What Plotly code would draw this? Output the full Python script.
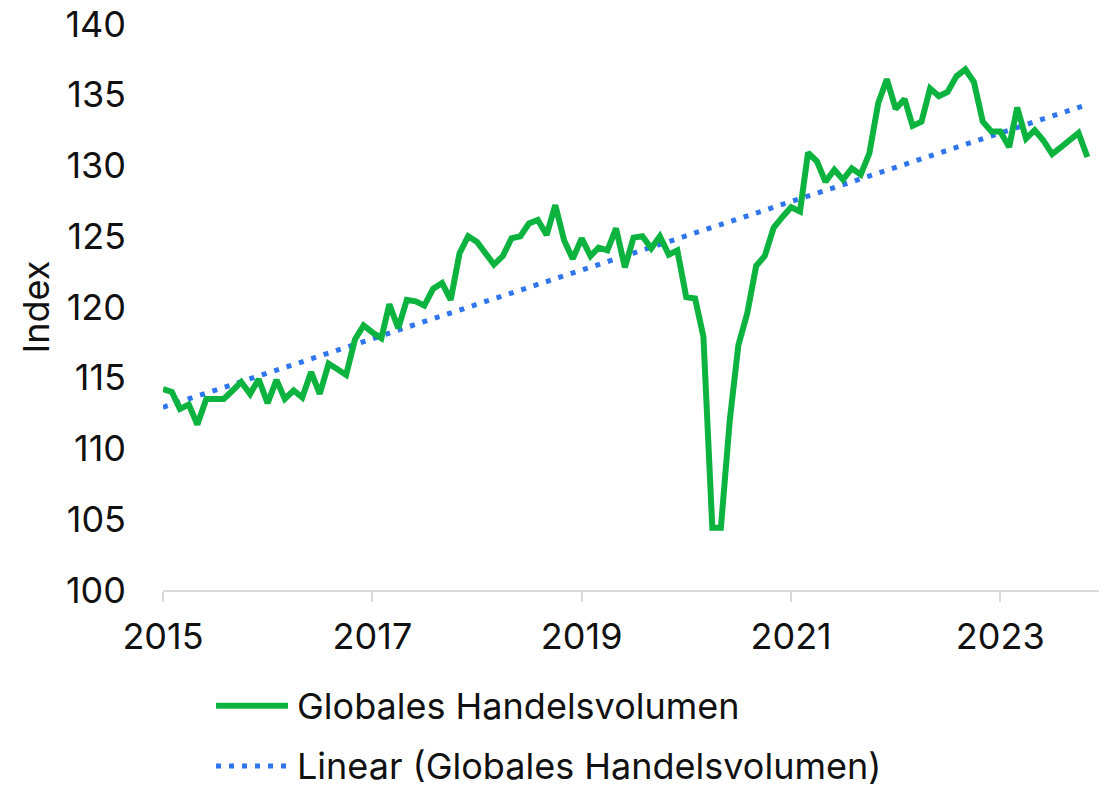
import numpy as np
import pandas as pd
import plotly.graph_objects as go

# Globales Handelsvolumen, monthly index values Jan 2015 - Nov 2023
start_month = "2015-01-01"
volume = [
    114.2, 114.0, 112.8, 113.1, 111.7, 113.5, 113.5, 113.5, 114.1, 114.7, 113.85, 114.9,
    113.2, 114.85, 113.5, 114.1, 113.6, 115.4, 113.85, 116.0, 115.6, 115.2, 117.7, 118.7,
    118.2, 117.8, 120.2, 118.5, 120.5, 120.4, 120.1, 121.3, 121.7, 120.5, 123.8, 125.0,
    124.6, 123.8, 123.0, 123.6, 124.85, 125.0, 125.9, 126.15, 125.1, 127.2, 124.7, 123.4,
    124.85, 123.6, 124.2, 124.0, 125.55, 122.8, 124.9, 125.0, 124.15, 125.0, 123.7, 124.0,
    120.7, 120.6, 117.9, 104.4, 104.4, 112.0, 117.3, 119.55, 122.9, 123.6, 125.6, 126.35,
    127.05, 126.75, 130.9, 130.3, 128.85, 129.7, 129.0, 129.8, 129.35, 130.85, 134.4, 136.1,
    134.0, 134.7, 132.8, 133.1, 135.45, 134.9, 135.2, 136.3, 136.8, 135.9, 133.1, 132.4,
    132.4, 131.3, 134.1, 131.9, 132.5, 131.75, 130.8, 131.3, 131.75, 132.3, 130.6,
]
series_name = "Globales Handelsvolumen"
trend_name = "Linear (Globales Handelsvolumen)"
year_ticks = ["2015-01-01", "2017-01-01", "2019-01-01", "2021-01-01", "2023-01-01"]

colors = {
    'line': '#0db33f',  # green
    'trend': '#2e75ee',  # blue dotted trend
    'axis': '#d9d9d9',  # light gray axis line
    'font': '#111111',
}

months = pd.date_range(start_month, periods=len(volume), freq="MS")

# Excel-style linear trendline (least squares over the months)
idx = np.arange(len(volume))
slope, intercept = np.polyfit(idx, volume, 1)
trend = intercept + slope * idx

fig = go.Figure()
fig.add_trace(go.Scatter(
    x=months, y=trend, mode="lines", name=trend_name,
    line=dict(color=colors['trend'], width=5, dash="5px,8px"),
    showlegend=False,
))
fig.add_trace(go.Scatter(
    x=months, y=volume, mode="lines", name=series_name,
    line=dict(color=colors['line'], width=6),
    showlegend=False,
))

# legend drawn by hand so the samples are as long as in the original
legend_items = [
    (series_name, colors['line'], "solid", -0.2044),
    (trend_name, colors['trend'], "5px,8px", -0.3110),
]
for text, col, dash, ypos in legend_items:
    fig.add_shape(type="line", xref="paper", yref="paper",
                  x0=0.0566, x1=0.1334, y0=ypos, y1=ypos,
                  line=dict(color=col, width=6 if dash == "solid" else 5, dash=dash))
    fig.add_annotation(xref="paper", yref="paper", x=0.1409, y=ypos,
                       text=text, showarrow=False, xanchor="left", yanchor="middle",
                       font=dict(size=36, color=colors['font']))

# page body adds 8px offset, so the figure is 8px smaller than the window
fig.update_layout(
    width=1099, height=777,
    margin=dict(l=155, r=7, t=16, b=195),
    paper_bgcolor="white", plot_bgcolor="white",
    font=dict(family="Inter", size=36, color=colors['font']),
    showlegend=False,
)
fig.update_xaxes(
    range=["2015-01-01", "2023-12-15"],
    tickvals=year_ticks, tickformat="%Y",
    showgrid=False, zeroline=False,
    showline=True, linecolor=colors['axis'], linewidth=2,
    ticks="outside", ticklen=10, tickwidth=2, tickcolor=colors['axis'],
    ticklabelstandoff=4,
)
fig.update_yaxes(
    range=[100, 140], dtick=5,
    showgrid=False, zeroline=False, showline=False,
    ticklabelstandoff=36, ticklabeloverflow="allow",
    title=dict(text="Index", standoff=4, font=dict(family="Inter", size=36)),
    automargin=False,
)

fig.write_html("out.html")
